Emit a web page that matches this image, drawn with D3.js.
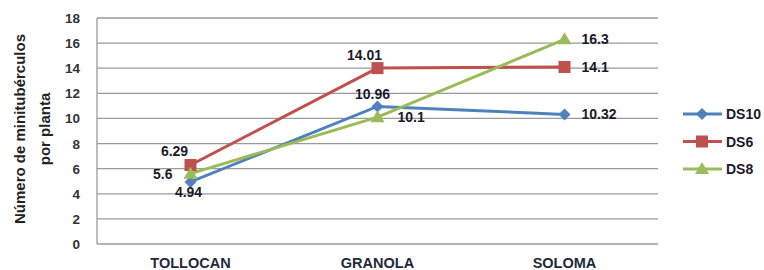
<!DOCTYPE html>
<html>
<head>
<meta charset="utf-8">
<script src="https://cdn.jsdelivr.net/npm/d3@7"></script>
<style>
  body { margin: 0; background: #fff; }
  svg { display: block; font-family: "Liberation Sans", Arial, sans-serif; }
</style>
</head>
<body>
<svg id="chart" width="764" height="270"></svg>
<script>
const categories = ["TOLLOCAN", "GRANOLA", "SOLOMA"];
const seriesNames = ["DS10", "DS6", "DS8"];
const ds10 = [4.94, 10.96, 10.32];
const ds6 = [6.29, 14.01, 14.1];
const ds8 = [5.6, 10.1, 16.3];
const yTicks = [0, 2, 4, 6, 8, 10, 12, 14, 16, 18];

const colors = { DS10: "#4f81bd", DS6: "#c0504d", DS8: "#9bbb59" };
// where each label sits relative to its point: [dx, dy, anchor]
const labelPos = {
  DS10: [[-2, 15, "middle"], [-5, -7, "middle"], [17, 5, "start"]],
  DS6: [[-16, -9, "middle"], [-13, -8, "middle"], [17, 5, "start"]],
  DS8: [[-18, 5, "end"], [20, 5, "start"], [17, 5, "start"]]
};

const series = [
  { name: "DS10", values: ds10, marker: "diamond" },
  { name: "DS6", values: ds6, marker: "square" },
  { name: "DS8", values: ds8, marker: "triangle" }
];

const svg = d3.select("#chart");
const margin = { left: 97, right: 106, top: 18, bottom: 26 };
const width = 764, height = 270;

const x = d3.scaleBand()
  .domain(categories)
  .range([margin.left, width - margin.right]);

const y = d3.scaleLinear()
  .domain([0, 18])
  .range([height - margin.bottom, margin.top]);

// gridlines
svg.append("g")
  .selectAll("line")
  .data(yTicks)
  .join("line")
  .attr("x1", margin.left)
  .attr("x2", width - margin.right)
  .attr("y1", d => y(d))
  .attr("y2", d => y(d))
  .attr("stroke", "#9a9a9a")
  .attr("stroke-width", 1.3);

// left axis line
svg.append("line")
  .attr("x1", margin.left).attr("x2", margin.left)
  .attr("y1", y(18)).attr("y2", y(0))
  .attr("stroke", "#9a9a9a")
  .attr("stroke-width", 1.3);

// y tick labels
svg.append("g")
  .selectAll("text")
  .data(yTicks)
  .join("text")
  .attr("x", margin.left - 17)
  .attr("y", d => y(d) + 5)
  .attr("text-anchor", "end")
  .attr("font-size", 13.5)
  .attr("font-weight", "bold")
  .attr("fill", "#333")
  .text(d => d);

// category labels
svg.append("g")
  .selectAll("text")
  .data(categories)
  .join("text")
  .attr("x", d => x(d) + x.bandwidth() / 2)
  .attr("y", 268)
  .attr("text-anchor", "middle")
  .attr("font-size", 14.5)
  .attr("font-weight", "bold")
  .attr("fill", "#1f2a3a")
  .text(d => d);

// y axis title
const title = svg.append("text")
  .attr("transform", `translate(25,${y(9) - 2}) rotate(-90)`)
  .attr("text-anchor", "middle")
  .attr("font-size", 15)
  .attr("font-weight", "bold")
  .attr("fill", "#222");
title.append("tspan").attr("x", 0).attr("dy", 0).text("Número de minitubérculos");
title.append("tspan").attr("x", 0).attr("dy", 25).text("por planta");

function drawMarker(g, type, cx, cy, color) {
  if (type === "square") {
    g.append("rect")
      .attr("x", cx - 6).attr("y", cy - 6)
      .attr("width", 12).attr("height", 12)
      .attr("fill", color);
  } else if (type === "diamond") {
    g.append("path")
      .attr("d", `M${cx},${cy - 6}L${cx + 6},${cy}L${cx},${cy + 6}L${cx - 6},${cy}Z`)
      .attr("fill", color);
  } else {
    g.append("path")
      .attr("d", `M${cx},${cy - 7}L${cx + 7},${cy + 5}L${cx - 7},${cy + 5}Z`)
      .attr("fill", color);
  }
}

const line = d3.line()
  .x((d, i) => x(categories[i]) + x.bandwidth() / 2)
  .y(d => y(d));

const plot = svg.append("g");
series.forEach(s => {
  plot.append("path")
    .datum(s.values)
    .attr("d", line)
    .attr("fill", "none")
    .attr("stroke", colors[s.name])
    .attr("stroke-width", 3);
});
series.forEach(s => {
  s.values.forEach((v, i) => {
    drawMarker(plot, s.marker, x(categories[i]) + x.bandwidth() / 2, y(v), colors[s.name]);
  });
});

// data labels
series.forEach(s => {
  s.values.forEach((v, i) => {
    const [dx, dy, anchor] = labelPos[s.name][i];
    plot.append("text")
      .attr("x", x(categories[i]) + x.bandwidth() / 2 + dx)
      .attr("y", y(v) + dy)
      .attr("text-anchor", anchor)
      .attr("font-size", 14)
      .attr("font-weight", "bold")
      .attr("fill", "#1a1a2a")
      .text(v);
  });
});

// legend
const legend = svg.append("g");
series.forEach((s, i) => {
  const ly = 114 + i * 27.5;
  legend.append("line")
    .attr("x1", 683).attr("x2", 722)
    .attr("y1", ly).attr("y2", ly)
    .attr("stroke", colors[s.name])
    .attr("stroke-width", 3);
  drawMarker(legend, s.marker, 702, ly, colors[s.name]);
  legend.append("text")
    .attr("x", 726)
    .attr("y", ly + 5)
    .attr("font-size", 14)
    .attr("font-weight", "bold")
    .attr("fill", "#1a1a2a")
    .text(s.name);
});
</script>
</body>
</html>
